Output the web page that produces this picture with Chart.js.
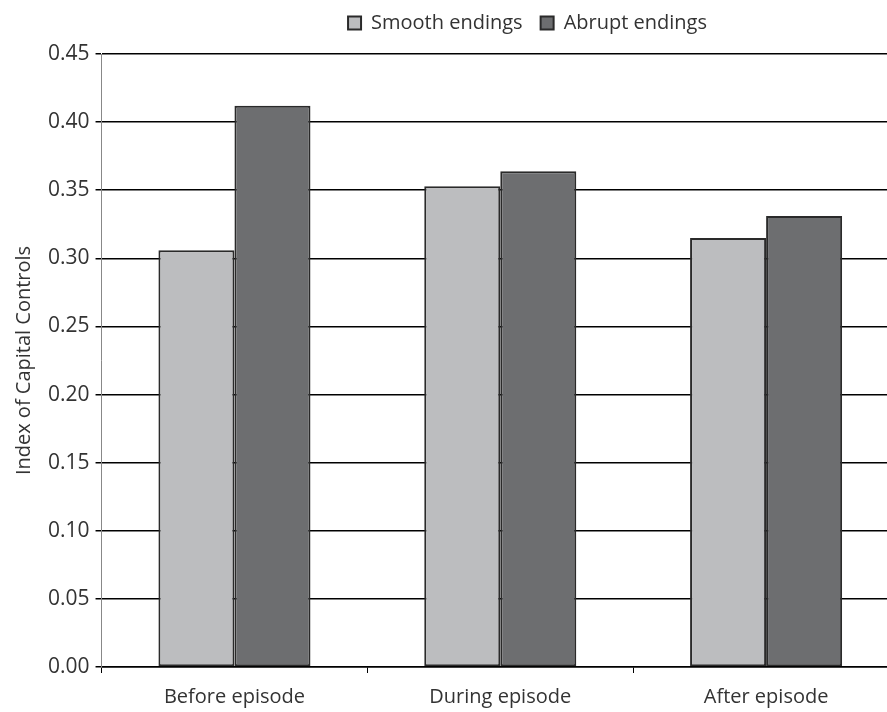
<!DOCTYPE html>
<html lang="en">
<head>
    <meta charset="UTF-8">
    <title>Index of Capital Controls</title>
    <script src="https://cdn.jsdelivr.net/npm/chart.js"></script>
    <style>
        body {
            margin: 0;
            overflow: hidden;
            background: #fff;
        }
        #wrap {
            position: absolute;
            left: 0;
            top: 0;
            width: 900px;
            height: 712px;
        }
    </style>
</head>
<body>
    <div id="wrap">
        <canvas id="capChart"></canvas>
    </div>

    <script>
        // data
        const categories = ['Before episode', 'During episode', 'After episode'];
        const smoothEndings = [0.306, 0.353, 0.315];
        const abruptEndings = [0.412, 0.364, 0.331];
        const seriesNames = ['Smooth endings', 'Abrupt endings'];

        const fontFamily = '"Open Sans", "DejaVu Sans", sans-serif';
        const textColor = '#333333';

        // nudge legend right and up, like in the original figure
        const legendShift = {
            id: 'legendShift',
            afterLayout(chart) {
                const lg = chart.legend;
                lg.left += 72;
                lg.right += 72;
                lg.top -= 11;
                lg.bottom -= 11;
            }
        };

        const ctx = document.getElementById('capChart').getContext('2d');
        new Chart(ctx, {
            type: 'bar',
            data: {
                labels: categories,
                datasets: [{
                    label: seriesNames[0],
                    data: smoothEndings,
                    backgroundColor: '#bcbdbf',
                    borderColor: '#2a2a2a',
                    borderWidth: 2,
                    borderSkipped: false
                }, {
                    label: seriesNames[1],
                    data: abruptEndings,
                    backgroundColor: '#6d6e70',
                    borderColor: '#2a2a2a',
                    borderWidth: 2,
                    borderSkipped: false
                }]
            },
            options: {
                responsive: true,
                maintainAspectRatio: false,
                animation: false,
                layout: {
                    padding: { left: 12, right: 1, top: 6, bottom: 0 }
                },
                datasets: {
                    bar: {
                        categoryPercentage: 0.572,
                        barPercentage: 1.0
                    }
                },
                plugins: {
                    tooltip: { enabled: false },
                    legend: {
                        position: 'top',
                        labels: {
                            boxWidth: 13,
                            boxHeight: 13,
                            padding: 18,
                            color: textColor,
                            font: { family: fontFamily, size: 20 }
                        }
                    }
                },
                scales: {
                    x: {
                        offset: true,
                        afterFit(scale) {
                            scale.height = 45;
                        },
                        grid: {
                            offset: true,
                            drawOnChartArea: false,
                            drawTicks: true,
                            tickLength: 6,
                            tickColor: '#000000',
                            tickWidth: 1
                        },
                        border: { color: '#000000', width: 1.5 },
                        ticks: {
                            color: textColor,
                            padding: 12,
                            font: { family: fontFamily, size: 20 }
                        }
                    },
                    y: {
                        min: 0,
                        max: 0.45,
                        ticks: {
                            stepSize: 0.05,
                            color: textColor,
                            padding: 6,
                            font: { family: fontFamily, size: 21 },
                            callback: v => v.toFixed(2)
                        },
                        grid: {
                            color: '#000000',
                            lineWidth: 1.5,
                            tickLength: 6,
                            tickColor: '#000000'
                        },
                        border: { color: '#888888', width: 1 },
                        title: {
                            display: true,
                            text: 'Index of Capital Controls',
                            color: textColor,
                            padding: { top: 0, bottom: 6 },
                            font: { family: fontFamily, size: 20 }
                        }
                    }
                }
            },
            plugins: [legendShift]
        });
    </script>
</body>
</html>
